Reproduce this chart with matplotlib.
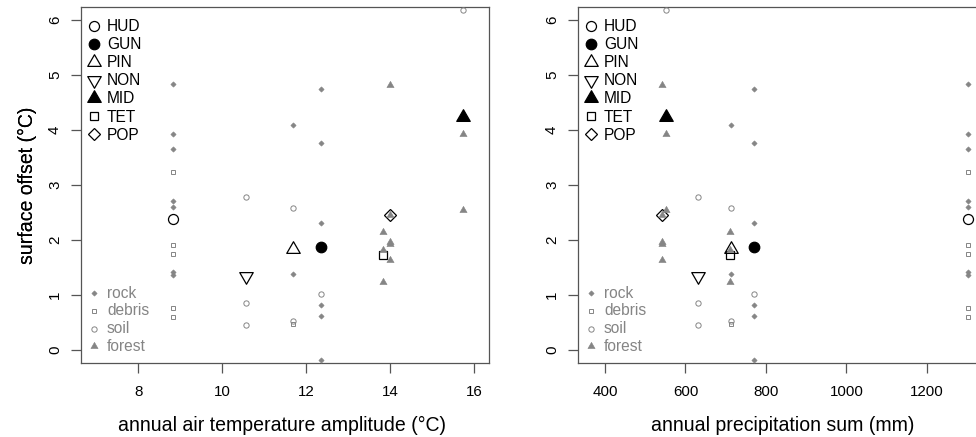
import matplotlib
matplotlib.use("Agg")
import matplotlib.pyplot as plt
from matplotlib.path import Path

plt.rcParams['font.family'] = ['Liberation Sans', 'DejaVu Sans']

# ---------------- data ----------------
sites = ["HUD", "GUN", "PIN", "NON", "MID", "TET", "POP"]
air_temp_amplitude = [8.83, 12.36, 11.70, 10.57, 15.73, 13.84, 13.99]
precip_sum = [1302, 770, 712, 630, 551, 710, 541]
mean_offset = [2.39, 1.87, 1.84, 1.35, 4.24, 1.72, 2.45]

surface_types = ["rock", "debris", "soil", "forest"]
rock_sites = ["HUD"] * 7 + ["GUN"] * 6 + ["PIN"] * 2
rock_values = [4.83, 3.92, 3.65, 2.71, 2.60, 1.42, 1.37,
               4.75, 3.77, 2.31, 0.82, 0.62, -0.19,
               4.10, 1.38]
debris_sites = ["HUD"] * 5 + ["PIN"]
debris_values = [3.23, 1.90, 1.74, 0.77, 0.59, 0.47]
soil_sites = ["NON"] * 3 + ["PIN"] * 2 + ["GUN", "MID"]
soil_values = [2.79, 0.86, 0.46, 2.59, 0.53, 1.01, 6.18]
forest_sites = ["MID"] * 2 + ["TET"] * 3 + ["POP"] * 5
forest_values = [3.92, 2.55, 2.15, 1.81, 1.24, 4.82, 2.46, 1.97, 1.92, 1.63]

x_left_ticks = [8, 10, 12, 14, 16]
x_right_ticks = [400, 600, 800, 1000, 1200]
y_ticks = [0, 1, 2, 3, 4, 5, 6]

# ---------------- styles ----------------
PT = 0.72  # px -> pt at dpi 100
TRI_UP = Path([(0, 1), (-0.866, -0.5), (0.866, -0.5), (0, 1)], closed=True)
TRI_DN = Path([(0, -1), (-0.866, 0.5), (0.866, 0.5), (0, -1)], closed=True)
D = 10.0  # big symbol base size (px)
site_style = {
    "HUD": dict(marker='o', ms=D * PT, mfc='none'),
    "GUN": dict(marker='o', ms=D * 1.05 * PT, mfc='black'),
    "PIN": dict(marker=TRI_UP, ms=1.347 * D / 0.866 * PT, mfc='none'),
    "NON": dict(marker=TRI_DN, ms=1.347 * D / 0.866 * PT, mfc='none'),
    "MID": dict(marker=TRI_UP, ms=1.347 * D / 0.866 * PT, mfc='black'),
    "TET": dict(marker='s', ms=0.886 * D * PT, mfc='none'),
    "POP": dict(marker='D', ms=1.253 * D / 1.414 * PT, mfc='none'),
}
GRAY = '#858585'
Ds = 5.3
surf_style = {
    "rock": dict(marker='D', ms=Ds / 1.414 * PT, mfc=GRAY, mec=GRAY, mew=0.4),
    "debris": dict(marker='s', ms=0.886 * Ds * PT, mfc='none', mec=GRAY, mew=0.7),
    "soil": dict(marker='o', ms=Ds * PT, mfc='none', mec=GRAY, mew=0.7),
    "forest": dict(marker=TRI_UP, ms=1.347 * Ds / 0.866 * PT, mfc=GRAY, mec=GRAY, mew=0.4),
}
surf_data = {
    "rock": (rock_sites, rock_values),
    "debris": (debris_sites, debris_values),
    "soil": (soil_sites, soil_values),
    "forest": (forest_sites, forest_values),
}

W, H = 976, 437
fig = plt.figure(figsize=(W / 100, H / 100), dpi=100)

AX_TOP, AX_BOT = 7, 363
panels = [
    dict(left=81, right=489, xvals=air_temp_amplitude, xlim=(6.64, 16.36),
         xticks=x_left_ticks, xlabel="annual air temperature amplitude (°C)",
         label_shift=-3),
    dict(left=578, right=982, xvals=precip_sum, xlim=(332.8, 1337.2),
         xticks=x_right_ticks, xlabel="annual precipitation sum (mm)",
         label_shift=3),
]

for p in panels:
    wpx = p["right"] - p["left"]
    hpx = AX_BOT - AX_TOP
    ax = fig.add_axes([p["left"] / W, (H - AX_BOT) / H, wpx / W, hpx / H])
    ax.set_xlim(*p["xlim"])
    ax.set_ylim(-0.24, 6.24)
    site_x = dict(zip(sites, p["xvals"]))

    # big site symbols
    for s, xv, yv in zip(sites, p["xvals"], mean_offset):
        st = site_style[s]
        ax.plot([xv], [yv], linestyle='none', marker=st["marker"], ms=st["ms"],
                mfc=st["mfc"], mec='black', mew=0.9, zorder=3, clip_on=False)

    # individual surface points
    for surf in surface_types:
        ss, vv = surf_data[surf]
        st = surf_style[surf]
        ax.plot([site_x[s] for s in ss], vv, linestyle='none', zorder=4, **st)

    ax.set_xticks(p["xticks"])
    ax.set_yticks(y_ticks)
    for sp in ax.spines.values():
        sp.set_color('#555555')
        sp.set_linewidth(0.9)
    ax.tick_params(direction='out', length=7, width=0.9, color='#555555',
                   labelsize=10.9, labelcolor='black')
    ax.tick_params(axis='x', pad=9)
    ax.tick_params(axis='y', pad=6.6, labelrotation=90)
    for lab in ax.get_yticklabels():
        lab.set_verticalalignment('center')

    ax.set_xlabel(p["xlabel"], fontsize=14.05, va='baseline')
    ax.xaxis.set_label_coords(0.5 + p["label_shift"] / wpx, (AX_BOT - 431) / hpx)
    ax.set_ylabel("surface offset (°C)", fontsize=14.05, va='baseline')
    ax.yaxis.set_label_coords(-(p["left"] - 33) / wpx, 0.5)

    # legends (drawn as markers + real text in axes-pixel offsets)
    def fx(px):
        return px / wpx

    def fy(py):
        return (AX_BOT - py) / hpx

    for i, s in enumerate(sites):
        ry = 25.7 + i * 18.1
        st = site_style[s]
        ax.plot([fx(13)], [fy(ry)], transform=ax.transAxes, linestyle='none',
                marker=st["marker"], ms=st["ms"], mfc=st["mfc"], mec='black',
                mew=0.9, clip_on=False)
        ax.text(fx(26), fy(ry + 5.3), s, transform=ax.transAxes, fontsize=11.2,
                ha='left', va='baseline', color='black')
    for i, surf in enumerate(surface_types):
        ry = 292.7 + i * 17.9
        st = surf_style[surf]
        ax.plot([fx(13)], [fy(ry)], transform=ax.transAxes, linestyle='none',
                clip_on=False, **st)
        ax.text(fx(26), fy(ry + 4.9), surf, transform=ax.transAxes, fontsize=11.2,
                ha='left', va='baseline', color='#858585')

fig.savefig("out.png", dpi=100)
